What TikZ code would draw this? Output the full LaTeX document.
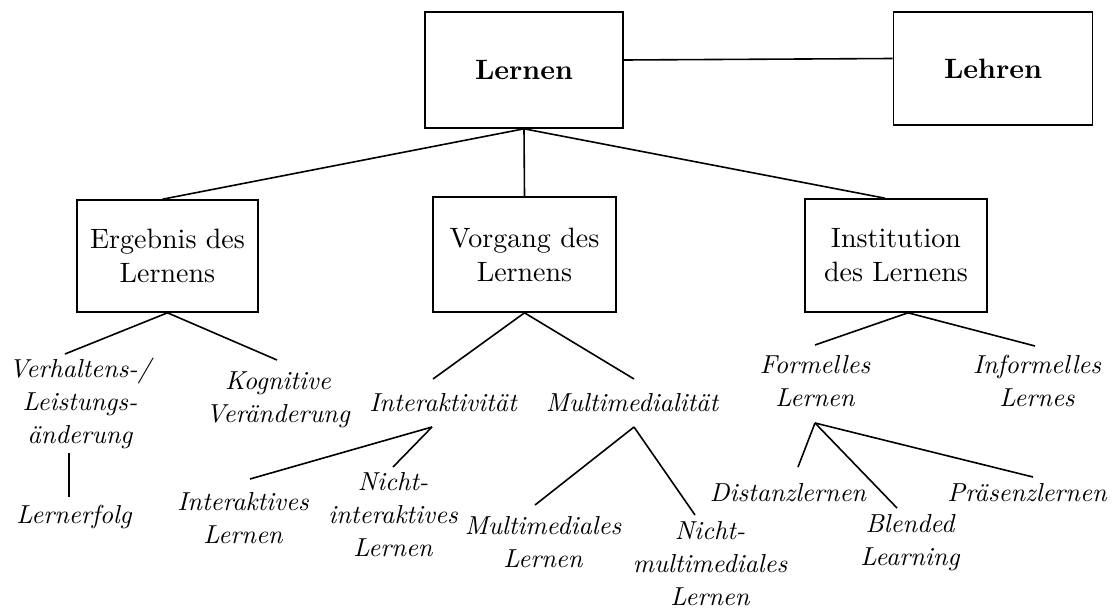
\documentclass[tikz,border=0pt]{standalone}
\usepackage{fontspec}
% 10pt design of Latin Modern at every size
\setmainfont{lmroman10-regular.otf}[
  BoldFont=lmroman10-bold.otf,
  ItalicFont=lmroman10-italic.otf,
  BoldItalicFont=lmroman10-bolditalic.otf]
\usetikzlibrary{calc}
\begin{document}
\begin{tikzpicture}[x=1pt,y=-1pt,
  box/.style={draw, line width=1.6pt, align=center, inner sep=0pt,
    font=\fontsize{28}{34}\selectfont},
  lbl/.style={align=center, inner sep=0pt,
    font=\fontsize{26}{33}\selectfont\itshape},
  conn/.style={line width=1.6pt}]
\useasboundingbox (0,0) rectangle (1113,610);

% top level
\node[box, minimum width=198pt, minimum height=116pt] (lernen) at (524,70) {\bfseries Lernen};
\node[box, minimum width=199pt, minimum height=113pt] (lehren) at (993,68.5) {\bfseries Lehren};

% second level
\node[box, minimum width=181pt, minimum height=112pt] (erg) at (167.5,256) {Ergebnis des\\Lernens};
\node[box, minimum width=183pt, minimum height=115pt] (vorg) at (524.5,254.5) {Vorgang des\\Lernens};
\node[box, minimum width=182pt, minimum height=113pt] (inst) at (896,255.5) {Institution\\des Lernens};

% third level
\node[lbl] (verh) at (80,403.5) {Verhaltens-/\\Leistungs-\\änderung};
\node[lbl] (lerfolg) at (74,517) {Lernerfolg};
\node[lbl] (kogn) at (278,400) {Kognitive\\Veränderung};
\node[lbl] (interakt) at (443,403) {Interaktivität};
\node[lbl] (multi) at (632,403) {Multimedialität};
\node[lbl] (interL) at (243,518) {Interaktives\\Lernen};
\node[lbl] (nichtint) at (393,515) {Nicht-\\interaktives\\Lernen};
\node[lbl] (multiL) at (543,542) {Multimediales\\Lernen};
\node[lbl] (nichtmulti) at (710,564) {Nicht-\\multimediales\\Lernen};
\node[lbl] (formell) at (815,381) {Formelles\\Lernen};
\node[lbl] (informell) at (1037,381) {Informelles\\Lernes};
\node[lbl] (distanz) at (788,493) {Distanzlernen};
\node[lbl] (blended) at (910,543) {Blended\\Learning};
\node[lbl] (praesenz) at (1027,493) {Präsenzlernen};

% connectors
\draw[conn] ([yshift=10pt]lernen.east) -- ([yshift=10pt]lehren.west);
\draw[conn] (lernen.south) -- ([xshift=-5pt]erg.north);
\draw[conn] (lernen.south) -- (vorg.north);
\draw[conn] (lernen.south) -- ([xshift=-11pt]inst.north);

\draw[conn] (erg.south) -- ($(verh)+(-15,-49.5)$);
\draw[conn] (erg.south) -- ($(kogn)+(-1,-40)$);
\draw[conn] ($(verh)+(-11,49.5)$) -- ($(lerfolg)+(-5,-20)$);

\draw[conn] (vorg.south) -- ($(interakt)+(-10,-24)$);
\draw[conn] (vorg.south) -- ($(multi)+(2,-24)$);
\draw[conn] ($(interakt)+(-11,24)$) -- ($(interL)+(7,-39)$);
\draw[conn] ($(interakt)+(-11,24)$) -- ($(nichtint)+(0,-48)$);
\draw[conn] ($(multi)+(2,24)$) -- ($(multiL)+(-8,-37)$);
\draw[conn] ($(multi)+(2,24)$) -- ($(nichtmulti)+(-15,-49)$);

\draw[conn] ([xshift=12pt]inst.south) -- ($(formell)+(0,-36)$);
\draw[conn] ([xshift=12pt]inst.south) -- ($(informell)+(-2,-35)$);
\draw[conn] ($(formell)+(0,42)$) -- ($(distanz)+(10,-26)$);
\draw[conn] ($(formell)+(0,42)$) -- ($(blended)+(-13,-35)$);
\draw[conn] ($(formell)+(0,42)$) -- ($(praesenz)+(6,-16)$);
\end{tikzpicture}
\end{document}
